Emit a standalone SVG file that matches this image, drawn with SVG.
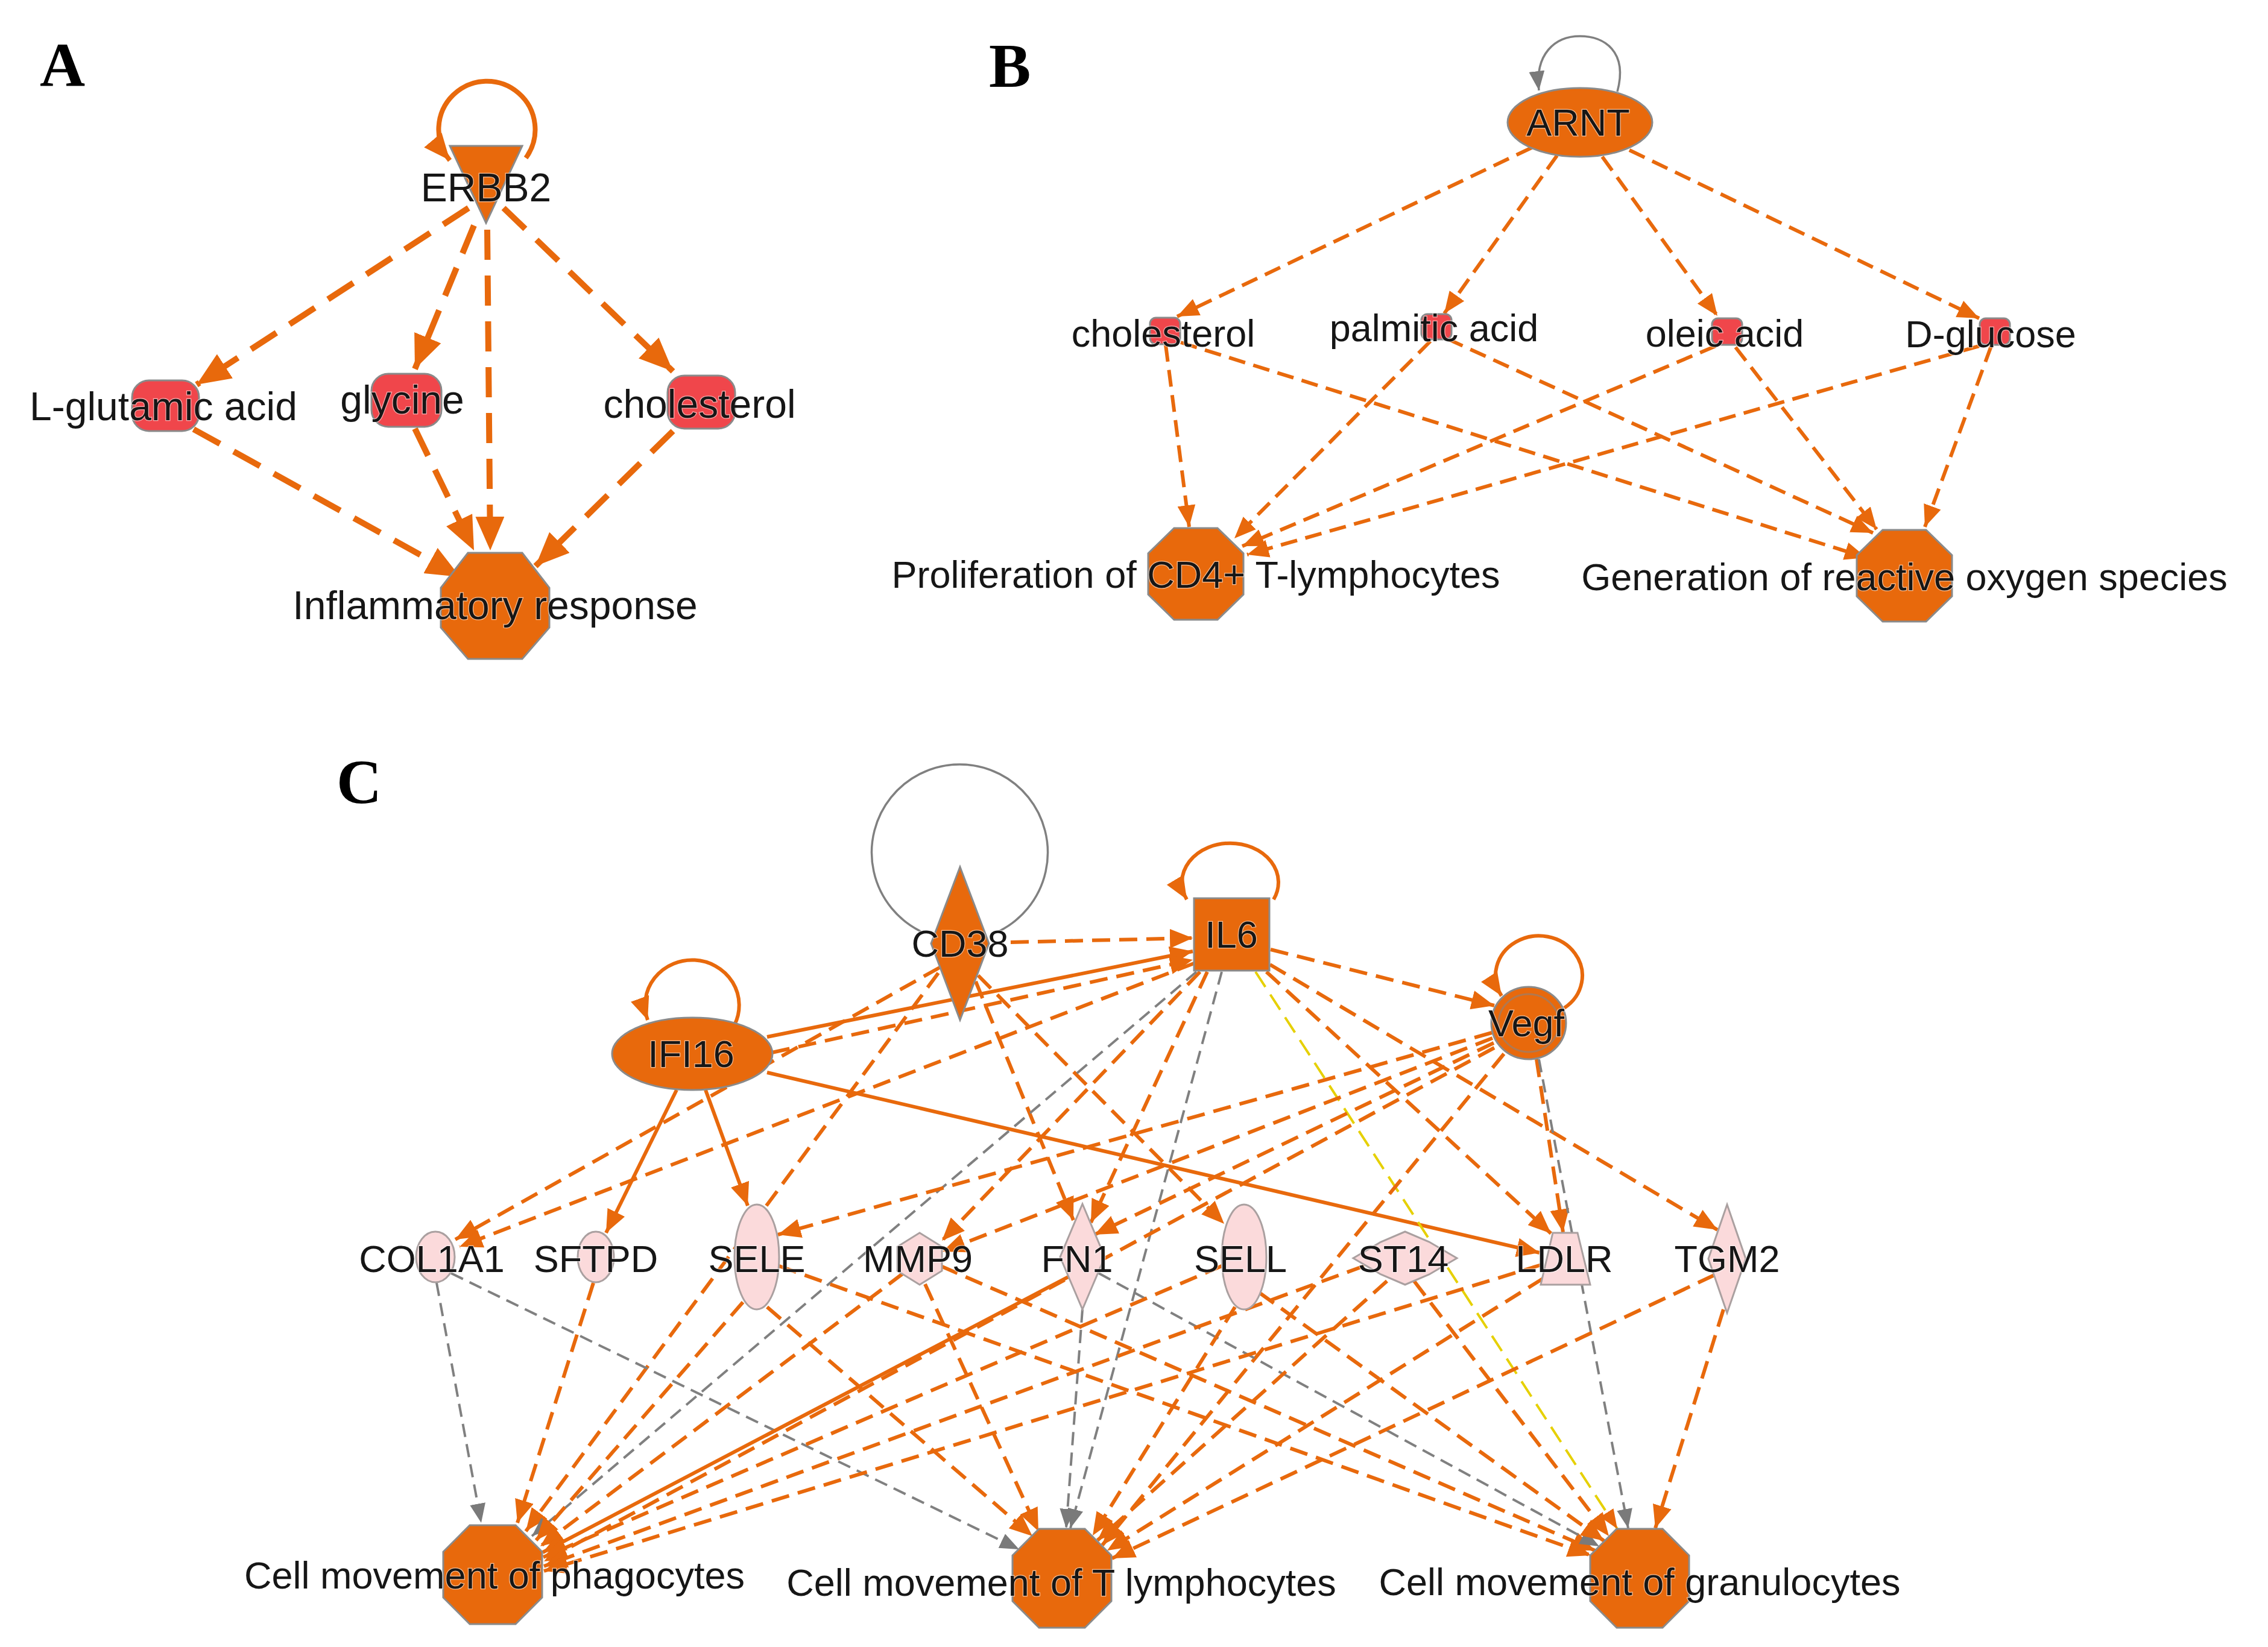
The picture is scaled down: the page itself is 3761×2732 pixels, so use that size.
<svg xmlns="http://www.w3.org/2000/svg" width="3761" height="2732" viewBox="0 0 3761 2732">
<defs>
<style>
.lbl{font-family:"Liberation Sans",Arial,sans-serif;fill:#161616;text-anchor:middle;stroke:#fff;stroke-opacity:0.55;stroke-width:2.5;paint-order:stroke}
.fa{font-size:66px}
.fb{font-size:63px}
.fc{font-size:63px}
.pl{font-family:"Liberation Serif","Times New Roman",serif;font-weight:bold;fill:#000;font-size:104px}
.org{fill:#E8690C;stroke:#8a8a8a;stroke-width:3}
.red{fill:#F0464B;stroke:#8a8a8a;stroke-width:3}
.pnk{fill:#FBDADB;stroke:#aaa0a0;stroke-width:3}
.ring{fill:none;stroke:#b07850;stroke-width:3}
.eA{fill:none;stroke:#E8690C;stroke-width:10;stroke-dasharray:50 26}
.lA{fill:none;stroke:#E8690C;stroke-width:8}
.eB{fill:none;stroke:#E8690C;stroke-width:6;stroke-dasharray:28 14}
.lB{fill:none;stroke:#808080;stroke-width:3.5}
.eC{fill:none;stroke:#E8690C;stroke-width:6;stroke-dasharray:30 15}
.sC{fill:none;stroke:#E8690C;stroke-width:6}
.gC{fill:none;stroke:#808080;stroke-width:4;stroke-dasharray:22 12}
.yC{fill:none;stroke:#E6D000;stroke-width:4;stroke-dasharray:30 15}
</style>
<marker id="mA" markerUnits="userSpaceOnUse" markerWidth="56" markerHeight="48" refX="56" refY="24" orient="auto"><path d="M0,0L56,24L0,48z" fill="#E8690C"/></marker>
<marker id="mAl" markerUnits="userSpaceOnUse" markerWidth="44" markerHeight="38" refX="44" refY="19" orient="auto"><path d="M0,0L44,19L0,38z" fill="#E8690C"/></marker>
<marker id="mB" markerUnits="userSpaceOnUse" markerWidth="36" markerHeight="30" refX="36" refY="15" orient="auto"><path d="M0,0L36,15L0,30z" fill="#E8690C"/></marker>
<marker id="mC" markerUnits="userSpaceOnUse" markerWidth="38" markerHeight="32" refX="38" refY="16" orient="auto"><path d="M0,0L38,16L0,32z" fill="#E8690C"/></marker>
<marker id="mG" markerUnits="userSpaceOnUse" markerWidth="32" markerHeight="26" refX="32" refY="13" orient="auto"><path d="M0,0L32,13L0,26z" fill="#7a7a7a"/></marker>
<marker id="mY" markerUnits="userSpaceOnUse" markerWidth="32" markerHeight="26" refX="32" refY="13" orient="auto"><path d="M0,0L32,13L0,26z" fill="#E8690C"/></marker>
</defs>
<rect width="3761" height="2732" fill="#fff"/>

<g id="connectors">
<g id="edges-A">
<path class="lA" d="M872,262 A80,80 0 1 0 746,266" marker-end="url(#mAl)"/>
<line class="eA" x1="777" y1="345" x2="326" y2="638" marker-end="url(#mA)"/>
<line class="eA" x1="786" y1="374" x2="688" y2="612" marker-end="url(#mA)"/>
<line class="eA" x1="808" y1="381" x2="813" y2="913" marker-end="url(#mA)"/>
<line class="eA" x1="835" y1="345" x2="1116" y2="616" marker-end="url(#mA)"/>
<line class="eA" x1="321" y1="712" x2="763" y2="957" marker-end="url(#mA)"/>
<line class="eA" x1="688" y1="711" x2="786" y2="913" marker-end="url(#mA)"/>
<line class="eA" x1="1116" y1="715" x2="888" y2="939" marker-end="url(#mA)"/>
</g>
<g id="edges-B">
<path class="lB" d="M2682,152 C2700,85 2660,60 2620,60 C2578,60 2545,90 2552,150" marker-end="url(#mG)"/>
<line class="eB" x1="2540" y1="245" x2="1952" y2="525" marker-end="url(#mB)"/>
<line class="eB" x1="2582" y1="258" x2="2395" y2="520" marker-end="url(#mB)"/>
<line class="eB" x1="2657" y1="260" x2="2848" y2="524" marker-end="url(#mB)"/>
<line class="eB" x1="2702" y1="249" x2="3282" y2="528" marker-end="url(#mB)"/>
<line class="eB" x1="1933" y1="572" x2="1972" y2="874" marker-end="url(#mB)"/>
<line class="eB" x1="1958" y1="568" x2="3095" y2="925" marker-end="url(#mB)"/>
<line class="eB" x1="2372" y1="566" x2="2047" y2="893" marker-end="url(#mB)"/>
<line class="eB" x1="2400" y1="562" x2="3106" y2="884" marker-end="url(#mB)"/>
<line class="eB" x1="2845" y1="574" x2="2060" y2="906" marker-end="url(#mB)"/>
<line class="eB" x1="2878" y1="576" x2="3112" y2="878" marker-end="url(#mB)"/>
<line class="eB" x1="3282" y1="574" x2="2068" y2="920" marker-end="url(#mB)"/>
<line class="eB" x1="3302" y1="574" x2="3192" y2="874" marker-end="url(#mB)"/>
</g>
<g id="edges-C">
<path class="lB" d="M1527,1545 A146,146 0 1 1 1656,1545"/>
<path class="sC" d="M2112,1492 A80,65 0 1 0 1968,1492" marker-end="url(#mC)"/>
<path class="sC" d="M1218,1700 A78,75 0 1 0 1074,1692" marker-end="url(#mC)"/>
<path class="sC" d="M2594,1672 A72,66 0 1 0 2490,1652" marker-end="url(#mC)"/>
<line class="eC" x1="1676" y1="1563" x2="1978" y2="1556" marker-end="url(#mC)"/>
<line class="sC" x1="1272" y1="1720" x2="1978" y2="1578" marker-end="url(#mC)"/>
<line class="eC" x1="1280" y1="1746" x2="1978" y2="1592" marker-end="url(#mC)"/>
<line class="sC" x1="1272" y1="1779" x2="2553" y2="2078" marker-end="url(#mC)"/>
<line class="sC" x1="1122" y1="1808" x2="1005" y2="2045" marker-end="url(#mC)"/>
<line class="sC" x1="1170" y1="1808" x2="1240" y2="2000" marker-end="url(#mC)"/>
<line class="eC" x1="1558" y1="1605" x2="755" y2="2056" marker-end="url(#mC)"/>
<line class="eC" x1="1980" y1="1598" x2="762" y2="2068" marker-end="url(#mC)"/>
<line class="eC" x1="1556" y1="1614" x2="872" y2="2540" marker-end="url(#mC)"/>
<line class="eC" x1="1618" y1="1628" x2="1780" y2="2024" marker-end="url(#mC)"/>
<line class="eC" x1="1622" y1="1618" x2="2030" y2="2030" marker-end="url(#mC)"/>
<line class="eC" x1="1990" y1="1612" x2="1562" y2="2058" marker-end="url(#mC)"/>
<line class="eC" x1="2002" y1="1612" x2="1809" y2="2028" marker-end="url(#mC)"/>
<line class="eC" x1="2107" y1="1575" x2="2478" y2="1668" marker-end="url(#mC)"/>
<line class="eC" x1="2100" y1="1612" x2="2572" y2="2046" marker-end="url(#mC)"/>
<line class="eC" x1="2106" y1="1600" x2="2848" y2="2040" marker-end="url(#mC)"/>
<line class="gC" x1="1984" y1="1612" x2="882" y2="2548" marker-end="url(#mG)"/>
<line class="gC" x1="2026" y1="1612" x2="1775" y2="2535" marker-end="url(#mG)"/>
<line class="yC" x1="2082" y1="1612" x2="2682" y2="2536" marker-end="url(#mY)"/>
<line class="eC" x1="2474" y1="1713" x2="1290" y2="2048" marker-end="url(#mC)"/>
<line class="eC" x1="2475" y1="1722" x2="1563" y2="2076" marker-end="url(#mC)"/>
<line class="eC" x1="2477" y1="1730" x2="1815" y2="2048" marker-end="url(#mC)"/>
<line class="eC" x1="2548" y1="1757" x2="2592" y2="2044" marker-end="url(#mC)"/>
<line class="eC" x1="2478" y1="1738" x2="902" y2="2590" marker-end="url(#mC)"/>
<line class="eC" x1="2494" y1="1748" x2="1828" y2="2563" marker-end="url(#mC)"/>
<line class="gC" x1="2552" y1="1757" x2="2700" y2="2535" marker-end="url(#mG)"/>
<line class="gC" x1="724" y1="2128" x2="798" y2="2526" marker-end="url(#mG)"/>
<line class="gC" x1="748" y1="2112" x2="1690" y2="2570" marker-end="url(#mG)"/>
<line class="eC" x1="984" y1="2128" x2="858" y2="2526" marker-end="url(#mC)"/>
<line class="eC" x1="1232" y1="2160" x2="889" y2="2555" marker-end="url(#mC)"/>
<line class="eC" x1="1272" y1="2168" x2="1712" y2="2548" marker-end="url(#mC)"/>
<line class="eC" x1="1292" y1="2100" x2="2638" y2="2580" marker-end="url(#mC)"/>
<line class="eC" x1="1498" y1="2112" x2="896" y2="2565" marker-end="url(#mC)"/>
<line class="eC" x1="1534" y1="2130" x2="1722" y2="2540" marker-end="url(#mC)"/>
<line class="eC" x1="1560" y1="2100" x2="2645" y2="2572" marker-end="url(#mC)"/>
<line class="sC" x1="1783" y1="2112" x2="900" y2="2575" marker-end="url(#mC)"/>
<line class="gC" x1="1795" y1="2172" x2="1768" y2="2535" marker-end="url(#mG)"/>
<line class="gC" x1="1822" y1="2112" x2="2652" y2="2565" marker-end="url(#mG)"/>
<line class="eC" x1="2026" y1="2100" x2="901" y2="2583" marker-end="url(#mC)"/>
<line class="eC" x1="2048" y1="2168" x2="1812" y2="2547" marker-end="url(#mC)"/>
<line class="eC" x1="2088" y1="2144" x2="2660" y2="2556" marker-end="url(#mC)"/>
<line class="eC" x1="2262" y1="2100" x2="902" y2="2598" marker-end="url(#mC)"/>
<line class="eC" x1="2300" y1="2125" x2="1820" y2="2555" marker-end="url(#mC)"/>
<line class="eC" x1="2345" y1="2125" x2="2668" y2="2548" marker-end="url(#mC)"/>
<line class="eC" x1="2556" y1="2098" x2="902" y2="2606" marker-end="url(#mC)"/>
<line class="eC" x1="2560" y1="2120" x2="1836" y2="2572" marker-end="url(#mC)"/>
<line class="eC" x1="2843" y1="2115" x2="1844" y2="2585" marker-end="url(#mC)"/>
<line class="eC" x1="2858" y1="2172" x2="2745" y2="2535" marker-end="url(#mC)"/>
</g>
</g>

<text class="pl" x="66" y="143">A</text>
<text class="pl" x="1640" y="144">B</text>
<text class="pl" x="558" y="1332">C</text>

<g id="nodes-A">
<g id="ERBB2"><polygon class="org" points="746,242 866,242 806,370"/><text class="lbl fa" x="806" y="334">ERBB2</text></g>
<g id="L-glutamic-acid"><rect class="red" x="219" y="631" width="111" height="84" rx="28"/><text class="lbl fa" x="271" y="697">L-glutamic acid</text></g>
<g id="glycine"><rect class="red" x="616" y="620" width="116" height="88" rx="28"/><text class="lbl fa" x="667" y="686">glycine</text></g>
<g id="cholesterol-A"><rect class="red" x="1107" y="623" width="112" height="88" rx="28"/><text class="lbl fa" x="1160" y="693">cholesterol</text></g>
<g id="Inflammatory-response"><polygon class="org" points="776,917 866,917 911,975 911,1041 866,1093 776,1093 731,1041 731,975"/><text class="lbl fa" x="821" y="1027">Inflammatory response</text></g>
</g>

<g id="nodes-B">
<g id="ARNT"><ellipse class="org" cx="2620" cy="203" rx="120" ry="57"/><text class="lbl fb" x="2617" y="225">ARNT</text></g>
<g id="cholesterol-B"><rect class="red" x="1907" y="527" width="50" height="44" rx="10"/><text class="lbl fb" x="1929" y="575">cholesterol</text></g>
<g id="palmitic-acid"><rect class="red" x="2357" y="521" width="50" height="42" rx="10"/><text class="lbl fb" x="2378" y="566">palmitic acid</text></g>
<g id="oleic-acid"><rect class="red" x="2839" y="528" width="50" height="44" rx="10"/><text class="lbl fb" x="2860" y="575">oleic acid</text></g>
<g id="D-glucose"><rect class="red" x="3283" y="528" width="50" height="44" rx="10"/><text class="lbl fb" x="3301" y="576">D-glucose</text></g>
<g id="Proliferation"><polygon class="org" points="1947,876 2019,876 2062,918 2062,986 2019,1028 1947,1028 1904,986 1904,918"/><text class="lbl fb" x="1983" y="975">Proliferation of CD4+ T-lymphocytes</text></g>
<g id="Generation"><polygon class="org" points="3122,879 3194,879 3237,921 3237,989 3194,1031 3122,1031 3079,989 3079,921"/><text class="lbl fb" x="3158" y="979">Generation of reactive oxygen species</text></g>
</g>

<g id="nodes-C">
<g id="CD38"><polygon class="org" points="1592,1438 1640,1565 1592,1692 1544,1565"/><text class="lbl fc" x="1592" y="1587">CD38</text></g>
<g id="IL6"><rect class="org" x="1980" y="1490" width="125" height="120"/><text class="lbl fc" x="2042" y="1572">IL6</text></g>
<g id="IFI16"><ellipse class="org" cx="1148" cy="1748" rx="133" ry="60"/><text class="lbl fc" x="1146" y="1770">IFI16</text></g>
<g id="Vegf"><ellipse class="org" cx="2535" cy="1697" rx="62" ry="60"/><ellipse class="ring" cx="2535" cy="1697" rx="50" ry="48"/><text class="lbl fc" x="2531" y="1719">Vegf</text></g>
<g id="COL1A1"><ellipse class="pnk" cx="722" cy="2085" rx="32" ry="42"/><text class="lbl fc" x="716" y="2110">COL1A1</text></g>
<g id="SFTPD"><ellipse class="pnk" cx="988" cy="2085" rx="30" ry="42"/><text class="lbl fc" x="988" y="2110">SFTPD</text></g>
<g id="SELE"><ellipse class="pnk" cx="1255" cy="2085" rx="37" ry="87"/><text class="lbl fc" x="1255" y="2110">SELE</text></g>
<g id="MMP9"><polygon class="pnk" points="1525,2045 1562,2068 1562,2108 1525,2131 1488,2108 1488,2068"/><text class="lbl fc" x="1522" y="2110">MMP9</text></g>
<g id="FN1"><polygon class="pnk" points="1795,1997 1832,2085 1795,2172 1758,2085"/><text class="lbl fc" x="1786" y="2110">FN1</text></g>
<g id="SELL"><ellipse class="pnk" cx="2063" cy="2085" rx="37" ry="87"/><text class="lbl fc" x="2057" y="2110">SELL</text></g>
<g id="ST14"><polygon class="pnk" points="2244,2087 2290,2060 2330,2043 2370,2060 2416,2087 2370,2114 2330,2131 2290,2114"/><text class="lbl fc" x="2327" y="2110">ST14</text></g>
<g id="LDLR"><polygon class="pnk" points="2575,2045 2616,2045 2637,2131 2555,2131"/><text class="lbl fc" x="2594" y="2110">LDLR</text></g>
<g id="TGM2"><polygon class="pnk" points="2864,1998 2895,2088 2864,2178 2833,2088"/><text class="lbl fc" x="2864" y="2110">TGM2</text></g>
<g id="phagocytes"><polygon class="org" points="779,2530 855,2530 899,2574 899,2650 855,2694 779,2694 735,2650 735,2574"/><text class="lbl fc" x="820" y="2635">Cell movement of phagocytes</text></g>
<g id="T-lymphocytes"><polygon class="org" points="1723,2536 1799,2536 1843,2580 1843,2656 1799,2700 1723,2700 1679,2656 1679,2580"/><text class="lbl fc" x="1760" y="2647">Cell movement of T lymphocytes</text></g>
<g id="granulocytes"><polygon class="org" points="2681,2536 2757,2536 2801,2580 2801,2656 2757,2700 2681,2700 2637,2656 2637,2580"/><text class="lbl fc" x="2719" y="2646">Cell movement of granulocytes</text></g>
</g>
</svg>
